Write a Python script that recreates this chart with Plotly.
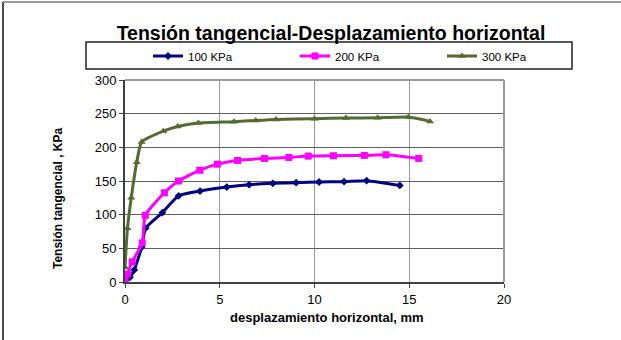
import plotly.graph_objects as go

# ---- data ----
x_100 = [0, 0.26, 0.49, 0.88, 1.09, 1.97, 2.83, 3.96, 5.37, 6.55, 7.8, 9.03, 10.24, 11.56, 12.75, 14.5]
y_100 = [0, 7, 18, 52, 80, 103, 128, 135, 141, 144.5, 146.5, 147.5, 148.5, 149, 150.5, 143.5]

x_200 = [0, 0.13, 0.38, 0.91, 1.07, 2.08, 2.82, 3.95, 4.87, 5.94, 7.36, 8.65, 9.67, 11.0, 12.63, 13.77, 15.5]
y_200 = [0, 12, 30, 58, 99, 132.5, 150, 166, 175, 180.5, 183.5, 185, 187, 187.5, 188, 189, 183.5]

x_300 = [0, 0.13, 0.33, 0.62, 0.88, 2.02, 2.78, 3.87, 5.75, 6.9, 7.97, 10.0, 11.66, 13.33, 14.95, 16.1]
y_300 = [22, 80, 125, 178, 208, 224, 231, 236, 238, 240, 241.5, 242.5, 243.5, 244, 245, 238.5]

series_names = ["100 KPa", "200 KPa", "300 KPa"]
title_text = "Tensión tangencial-Desplazamiento horizontal"
x_title = "desplazamiento horizontal, mm"
y_title = "Tensión tangencial , KPa"

FONT = "Liberation Sans, Arial, sans-serif"

W, H = 621, 340
L, R, T, B = 125, 504, 80, 282  # plot area in pixels


def px_x(p):
    return (p - L) / (R - L)


def px_y(p):
    return (B - p) / (B - T)


fig = go.Figure()
styles = [
    dict(color="#000080", symbol="diamond", size=6),
    dict(color="#FF00FF", symbol="square", size=7),
    dict(color="#556B2F", symbol="triangle-up", size=7),
]
legend_ids = ["legend", "legend2", "legend3"]
legend_x = [148, 295, 442]
for xs, ys, name, st, lid in zip([x_100, x_200, x_300], [y_100, y_200, y_300], series_names, styles, legend_ids):
    fig.add_trace(go.Scatter(
        x=xs, y=ys, name=name, mode="lines+markers", legend=lid,
        line=dict(color=st["color"], width=3, shape="spline", smoothing=0.5),
        marker=dict(color=st["color"], symbol=st["symbol"], size=st["size"]),
    ))

legend_common = dict(
    orientation="h", xref="container", yref="container", xanchor="left", yanchor="middle",
    font=dict(size=11.5, family=FONT), bgcolor="rgba(0,0,0,0)", borderwidth=0, itemwidth=30,
)
legend_layout = {lid: dict(legend_common, x=lx / W, y=1 - 56 / H) for lid, lx in zip(legend_ids, legend_x)}

fig.update_layout(
    width=W, height=H,
    margin=dict(l=L, r=W - R, t=T, b=H - B, autoexpand=False),
    paper_bgcolor="white", plot_bgcolor="white",
    font=dict(family=FONT, color="black", size=12),
    showlegend=True,
    title=dict(text="<b>" + title_text + "</b>", x=331 / W, xref="container", xanchor="center",
               y=1 - 33 / H, yref="container", yanchor="middle",
               font=dict(size=19.5, family=FONT, color="black")),
    xaxis=dict(range=[0, 20], dtick=5, tick0=0, showgrid=True, gridcolor="#9a9a9a", gridwidth=1,
               showline=True, linecolor="#404040", linewidth=2, ticks="outside", ticklen=4,
               tickcolor="#404040", tickfont=dict(size=13), zeroline=False, fixedrange=True),
    yaxis=dict(range=[0, 300], dtick=50, tick0=0, showgrid=True, gridcolor="#606060", gridwidth=1,
               showline=True, linecolor="#404040", linewidth=2, ticks="outside", ticklen=4,
               tickcolor="#404040", tickfont=dict(size=13), zeroline=False, fixedrange=True),
    **legend_layout,
)

shapes = [
    # legend box
    dict(type="rect", xref="paper", yref="paper", x0=px_x(86), x1=px_x(572), y0=px_y(69), y1=px_y(42),
         line=dict(color="#222222", width=1.5), fillcolor="rgba(0,0,0,0)", layer="below"),
    # plot area top/right border
    dict(type="line", xref="paper", yref="paper", x0=0, x1=1, y0=1, y1=1, line=dict(color="#9a9a9a", width=2)),
    dict(type="line", xref="paper", yref="paper", x0=1, x1=1, y0=0, y1=1, line=dict(color="#9a9a9a", width=2)),
    # outer chart frame (left and top)
    dict(type="line", xref="paper", yref="paper", x0=px_x(3), x1=px_x(3), y0=px_y(H), y1=px_y(2),
         line=dict(color="#111111", width=1.5)),
    dict(type="line", xref="paper", yref="paper", x0=px_x(3), x1=px_x(W), y0=px_y(2), y1=px_y(2),
         line=dict(color="#777777", width=1.5)),
]
fig.update_layout(shapes=shapes)

fig.add_annotation(text="<b>" + x_title + "</b>", xref="paper", yref="paper", x=px_x(327), y=px_y(317),
                   showarrow=False, font=dict(size=13, family=FONT), xanchor="center", yanchor="middle")
fig.add_annotation(text="<b>" + y_title + "</b>", xref="paper", yref="paper", x=px_x(58), y=px_y(199),
                   showarrow=False, textangle=-90, font=dict(size=12, family=FONT),
                   xanchor="center", yanchor="middle")

fig.write_html("out.html", config={"displayModeBar": False},
               post_script="document.body.style.margin='0';document.body.style.overflow='hidden';")
